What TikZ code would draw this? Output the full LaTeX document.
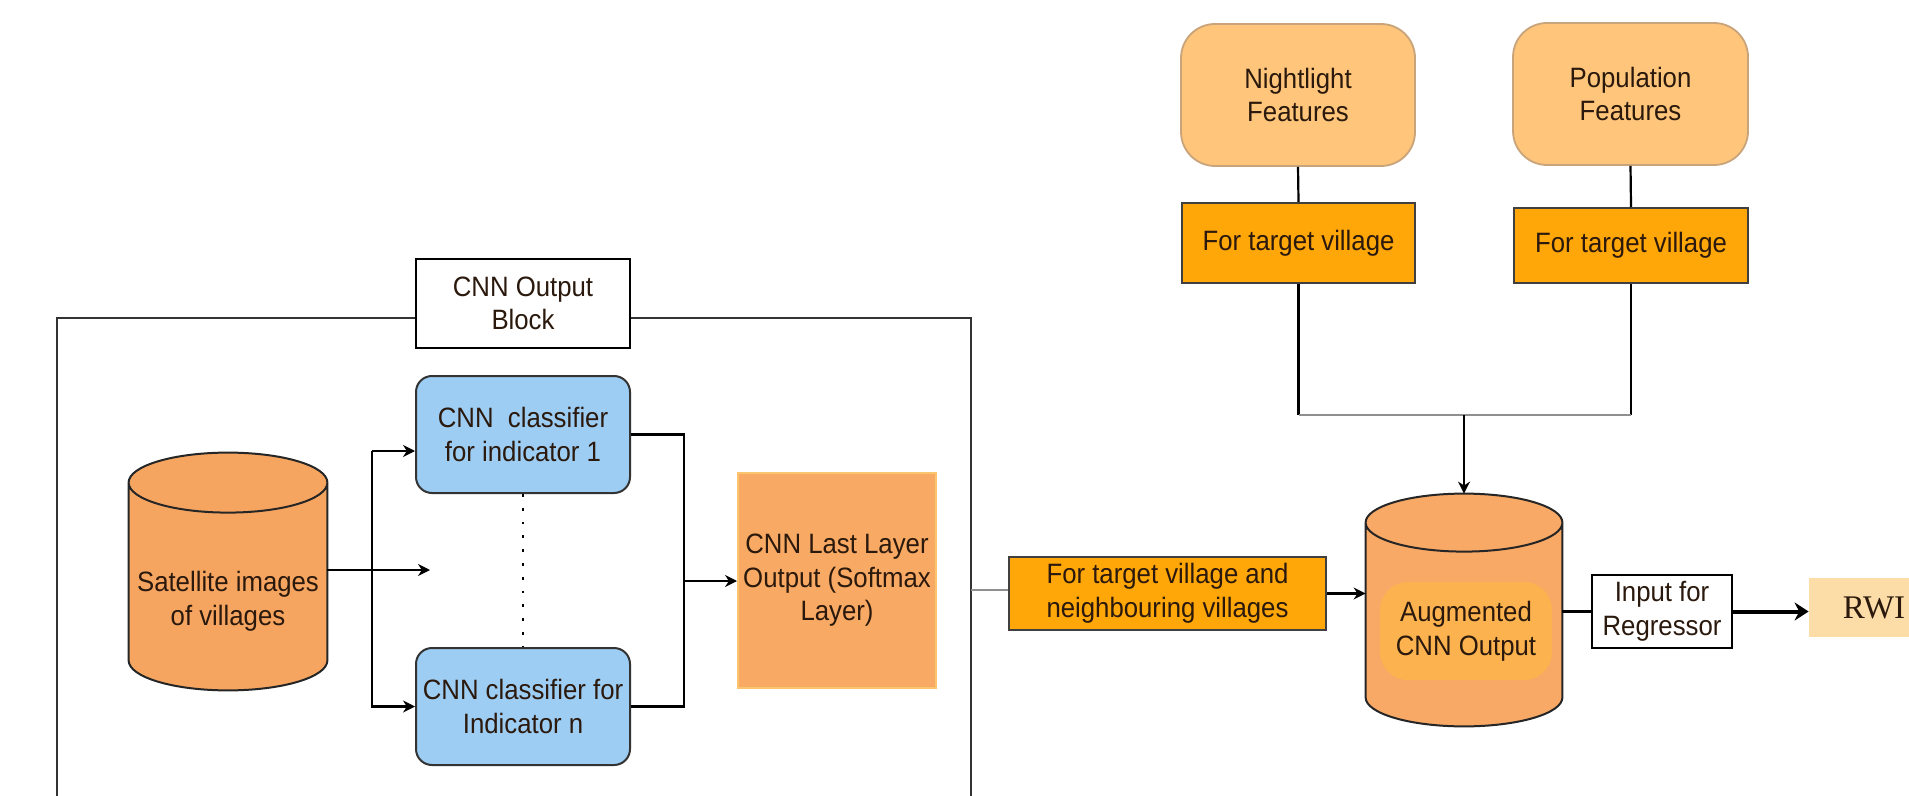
\documentclass[tikz,border=0pt]{standalone}
\usepackage{fontspec}
\setmainfont{Liberation Sans}[FakeStretch=0.92]
\newfontfamily\rwifont{Liberation Serif}
\usetikzlibrary{arrows.meta,calc}

\definecolor{txtcol}{HTML}{2A190C}
\definecolor{satfill}{HTML}{F6A561}
\definecolor{cnnblue}{HTML}{9ECDF4}
\definecolor{softfill}{HTML}{F8A963}
\definecolor{softdraw}{HTML}{FAC56E}
\definecolor{ftvfill}{HTML}{FFA609}
\definecolor{featfill}{HTML}{FEC57B}
\definecolor{featdraw}{HTML}{C9A47A}
\definecolor{augfill}{HTML}{F8A966}
\definecolor{auginner}{HTML}{FCB24E}
\definecolor{rwifill}{HTML}{FCDDA7}
\definecolor{greyline}{HTML}{8F8F8F}

\pgfdeclarelayer{back}
\pgfsetlayers{back,main}

\tikzset{
  basebox/.style={align=center, text=txtcol, inner sep=2pt},
  plainbox/.style={basebox, draw=black, fill=white, line width=1pt},
  cnnbox/.style={basebox, draw=black!80, fill=cnnblue, line width=1pt,
    rounded corners=8pt, minimum width=107pt, minimum height=58.5pt},
  softbox/.style={basebox, draw=softdraw, fill=softfill, line width=1pt},
  ftvbox/.style={basebox, draw=black!75, fill=ftvfill, line width=1pt},
  featbox/.style={basebox, draw=featdraw, fill=featfill, line width=0.9pt,
    rounded corners=17pt},
  cylbody/.style={basebox, inner sep=0pt},
  cylline/.style={draw=black!85, line width=1pt},
  outer/.style={draw=black!80, line width=1pt},
  link/.style={draw=black, line width=1.1pt},
  arr/.style={link, -{Stealth[length=6pt,width=6pt]}},
  bigarr/.style={draw=black, line width=2pt, -{Stealth[length=7pt,width=9pt]}},
  greylink/.style={draw=greyline, line width=1.4pt},
}

% cylinder round a body node: #1 node, #2 cap radius, #3 fill
\newcommand{\cylshape}[3]{%
  \filldraw[cylline, fill=#3] let \p1=($(#1.east)-(#1.west)$) in
    ([yshift=#2]#1.north west) -- ([yshift=#2]#1.south west)
    arc[start angle=180, end angle=360, x radius=0.5*\x1, y radius=#2]
    -- ([yshift=#2]#1.north east)
    arc[start angle=0, end angle=180, x radius=0.5*\x1, y radius=#2] -- cycle
    ([yshift=#2]#1.north west)
    arc[start angle=180, end angle=360, x radius=0.5*\x1, y radius=#2];
  \coordinate (#1-top) at ([yshift=2*#2]#1.north);
}

\begin{document}
\begin{tikzpicture}[x=0.5pt,y=-0.5pt,font=\fontsize{14}{16.8}\selectfont]
\useasboundingbox (0,0) rectangle (1909,796);

% CNN output block
\node[plainbox, minimum width=107pt, minimum height=44.5pt] (block) at (523,303.5) {CNN Output\\Block};
\coordinate (otl) at (57,318);
\coordinate (otr) at (971,318);
\draw[outer] (57,796) -- (otl) -- (otl -| block.west);
\draw[outer] (otr -| block.east) -- (otr) -- (971,796);

\node[cylbody, minimum width=99pt, minimum height=88.5pt] (sat) at (228,601.5) {Satellite images\\of villages};
\node[cnnbox] (cls1) at (523,434.5) {CNN\ \ classifier\\for indicator 1};
\node[cnnbox] (clsn) at (523,706.5) {CNN classifier for\\Indicator n};
\node[softbox, minimum width=99pt, minimum height=107.5pt] (soft) at (837,580.5) {CNN Last Layer\\Output (Softmax\\Layer)};

% features for the target village
\node[featbox, minimum width=117pt, minimum height=71pt] (night) at (1298,95) {Nightlight\\Features};
\node[featbox, minimum width=117.5pt, minimum height=71pt] (pop) at (1630.5,94) {Population\\Features};
\node[ftvbox, minimum width=116.5pt, minimum height=40pt] (ftv1) at (1298.5,243) {For target village};
\node[ftvbox, minimum width=117pt, minimum height=37.5pt] (ftv2) at (1631,245.5) {For target village};
\node[ftvbox, minimum width=158.5pt, minimum height=36.5pt] (ftvn) at (1167.5,593.5) {For target village and\\neighbouring villages};

\node[cylbody, minimum width=98pt, minimum height=87pt] (aug) at (1464,639) {};
\node[basebox, fill=auginner, rounded corners=14pt, minimum width=86pt, minimum height=49pt] (augtxt) at (1466,631) {Augmented\\CNN Output};
\node[plainbox, minimum width=70pt, minimum height=36.5pt] (input) at (1662,611.5) {Input for\\Regressor};
\node[basebox, fill=rwifill, minimum width=65pt, minimum height=29.5pt, font=\rwifont\fontsize{16.5}{19}\selectfont] (rwi) at (1874,607.5) {RWI};

\begin{pgfonlayer}{back}
\fill[white] (0,0) rectangle (1909,796);
\cylshape{sat}{15pt}{satfill}
\cylshape{aug}{14.5pt}{augfill}
\end{pgfonlayer}

% classifiers
\coordinate (satout) at (430,570);
\coordinate (fork) at (372,451);
\coordinate (join) at (684,581);
\draw[arr] (satout -| sat.east) -- (satout);
\draw[link] (fork |- satout) -- (fork);
\draw[arr] (fork) -- (fork -| cls1.west);
\draw[arr] (fork) |- (clsn.west);
\draw[dotted, line width=1.3pt, dash pattern=on 1.4pt off 5.5pt] (cls1.south) -- (clsn.north);
\draw[link] (cls1.east) -| (join) |- (clsn.east);
\draw[arr] (join) -- (join -| soft.west);

% towards the augmented output
\coordinate (boxr) at (971,590);
\coordinate (merge) at (1464,415);
\draw[greylink] (boxr) -- (boxr -| ftvn.west);
\draw[arr] (ftvn.east) -- (ftvn.east -| aug.west);
\draw[link] (night.south) -- (ftv1.north);
\draw[link] (pop.south) -- (ftv2.north);
\draw[link] (ftv1.south) -- (ftv1.south |- merge);
\draw[link] (ftv2.south) -- (ftv2.south |- merge);
\draw[greylink] (ftv1.south |- merge) -- (ftv2.south |- merge);
\draw[arr] (merge) -- (aug-top);
\draw[link] (input.west -| aug.east) -- (input.west);
\draw[bigarr] (input.east) -- (input.east -| rwi.west);
\end{tikzpicture}
\end{document}
